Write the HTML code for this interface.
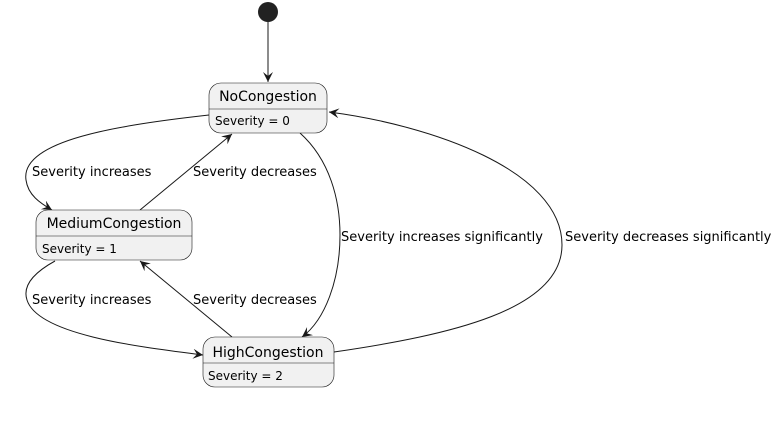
<!DOCTYPE html>
<html><head><style>
html,body{margin:0;padding:0;background:#fff;}
svg{display:block;}
text{font-family:"DejaVu Sans","Liberation Sans",sans-serif;fill:#000;}
</style></head><body>
<svg width="780" height="425" viewBox="0 0 780 425" xmlns="http://www.w3.org/2000/svg">
<defs>
<marker id="a" markerWidth="12" markerHeight="12" refX="10" refY="5" orient="auto" markerUnits="userSpaceOnUse">
<path d="M0,0 L10,5 L0,10 L4,5 Z" fill="#181818"/>
</marker>
</defs>
<circle cx="268" cy="12" r="10" fill="#222"/>
<g fill="none" stroke="#181818" stroke-width="1">
<path d="M268,22 L268,82" marker-end="url(#a)"/>
<path d="M209,115 C120,125 20,140 26,180 C28,195 40,203 52,210" marker-end="url(#a)"/>
<path d="M140,210 L232,134" marker-end="url(#a)"/>
<path d="M300,133 C330,160 340,200 340,235 C340,280 325,320 302,337" marker-end="url(#a)"/>
<path d="M334,352 C450,335 562,310 562,245 C562,170 430,125 329,112" marker-end="url(#a)"/>
<path d="M55,261 C35,272 22,285 27,300 C38,335 140,347 203,355" marker-end="url(#a)"/>
<path d="M232,337 L140,261" marker-end="url(#a)"/>
</g>
<g fill="#f1f1f1" stroke="#181818" stroke-width="0.6">
<rect x="209" y="83" width="118" height="50" rx="12"/>
<rect x="36" y="210" width="156" height="50" rx="12"/>
<rect x="203" y="337" width="131" height="50" rx="12"/>
</g>
<g stroke="#181818" stroke-width="0.6">
<line x1="209" y1="109" x2="327" y2="109"/>
<line x1="36" y1="236" x2="192" y2="236"/>
<line x1="203" y1="363" x2="334" y2="363"/>
</g>
<text x="268" y="101" font-size="14" text-anchor="middle">NoCongestion</text>
<text x="215" y="125" font-size="12">Severity = 0</text>
<text x="114" y="228" font-size="14" text-anchor="middle">MediumCongestion</text>
<text x="42" y="253" font-size="12">Severity = 1</text>
<text x="268" y="357" font-size="14" text-anchor="middle">HighCongestion</text>
<text x="208" y="380" font-size="12">Severity = 2</text>
<g font-size="13">
<text x="32" y="176">Severity increases</text>
<text x="193" y="176">Severity decreases</text>
<text x="341" y="241">Severity increases significantly</text>
<text x="565" y="241">Severity decreases significantly</text>
<text x="32" y="304">Severity increases</text>
<text x="193" y="304">Severity decreases</text>
</g>
</svg>
</body></html>
